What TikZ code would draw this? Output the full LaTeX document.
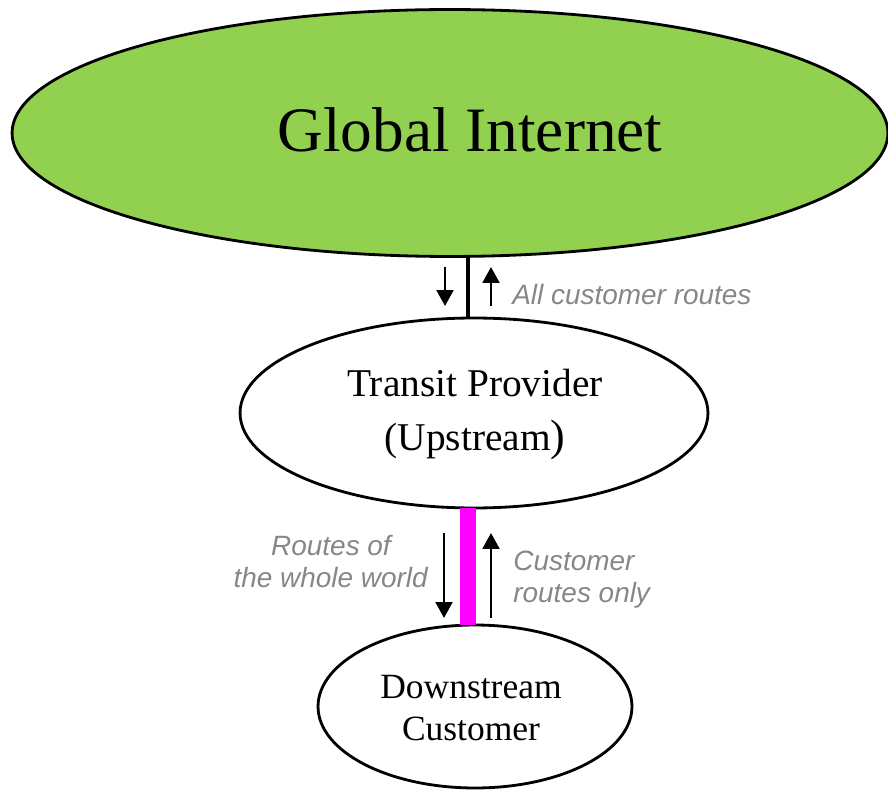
\documentclass[tikz,border=0pt]{standalone}
\usepackage{fontspec}
\setmainfont{Liberation Serif}
\newfontfamily\labelfont{Liberation Sans}
\usetikzlibrary{arrows.meta,shapes.geometric}
\definecolor{gigreen}{HTML}{92D050}
\definecolor{lblgray}{HTML}{878787}
\definecolor{linkmag}{HTML}{FF00FF}
\begin{document}
\begin{tikzpicture}[x=0.02cm,y=-0.02cm,
  ellbox/.style={draw=black, line width=1.6pt, ellipse, inner sep=0pt, outer sep=0pt},
  txt/.style={inner sep=0pt, anchor=base},
  lbl/.style={inner sep=0pt, text=lblgray, font=\labelfont\itshape\fontsize{15.9}{18}\selectfont},
  flowarrow/.style={line width=1.5pt, -{Triangle[width=9.5pt,length=9pt]}},
  ]
\useasboundingbox (0,0) rectangle (888,790);
% ellipses
\node[ellbox, fill=gigreen, minimum width=17.52cm, minimum height=4.94cm] (gi) at (450,133) {};
\node[ellbox, fill=white, minimum width=9.36cm, minimum height=3.8cm] (tp) at (474,413) {};
\node[ellbox, fill=white, minimum width=6.28cm, minimum height=3.26cm] (dc) at (475,706.5) {};
% texts
\node[txt, font=\fontsize{36}{40}\selectfont] (gitxt) at (470,152) {Global Internet};
\node[txt, font=\fontsize{22.4}{26}\selectfont] (tptxt1) at (475,396) {Transit Provider};
\node[txt, font=\fontsize{22.4}{26}\selectfont] (tptxt2) at (475,450) {(Upstream{\fontsize{25}{28}\selectfont)}};
\node[txt, font=\fontsize{20.2}{24}\selectfont] (dctxt1) at (471,698) {Downstream};
\node[txt, font=\fontsize{20.2}{24}\selectfont] (dctxt2) at (471,740) {Customer};
% links
\coordinate (lx) at (468,0);
\draw[line width=2.4pt] (gi.south -| lx) -- (tp.north -| lx);
\draw[linkmag, line width=9pt] (tp.south -| lx) -- (dc.north -| lx);
% arrows
\coordinate (a1s) at (445,267);
\coordinate (a1e) at (445,306);
\coordinate (a2s) at (491,306);
\coordinate (a2e) at (491,267);
\coordinate (a3s) at (444,533);
\coordinate (a3e) at (444,618);
\coordinate (a4s) at (491,618);
\coordinate (a4e) at (491,533);
\draw[flowarrow] (a1s) -- (a1e);
\draw[flowarrow] (a2s) -- (a2e);
\draw[flowarrow] (a3s) -- (a3e);
\draw[flowarrow] (a4s) -- (a4e);
% labels
\node[lbl, anchor=base west] (l1) at (512,304) {All customer routes};
\node[lbl, anchor=base] (l2a) at (331,555) {Routes of};
\node[lbl, anchor=base east] (l2b) at (428,587) {the whole world};
\node[lbl, anchor=base west] (l3a) at (513,570) {Customer};
\node[lbl, anchor=base west] (l3b) at (513,602) {routes only};
\end{tikzpicture}
\end{document}
